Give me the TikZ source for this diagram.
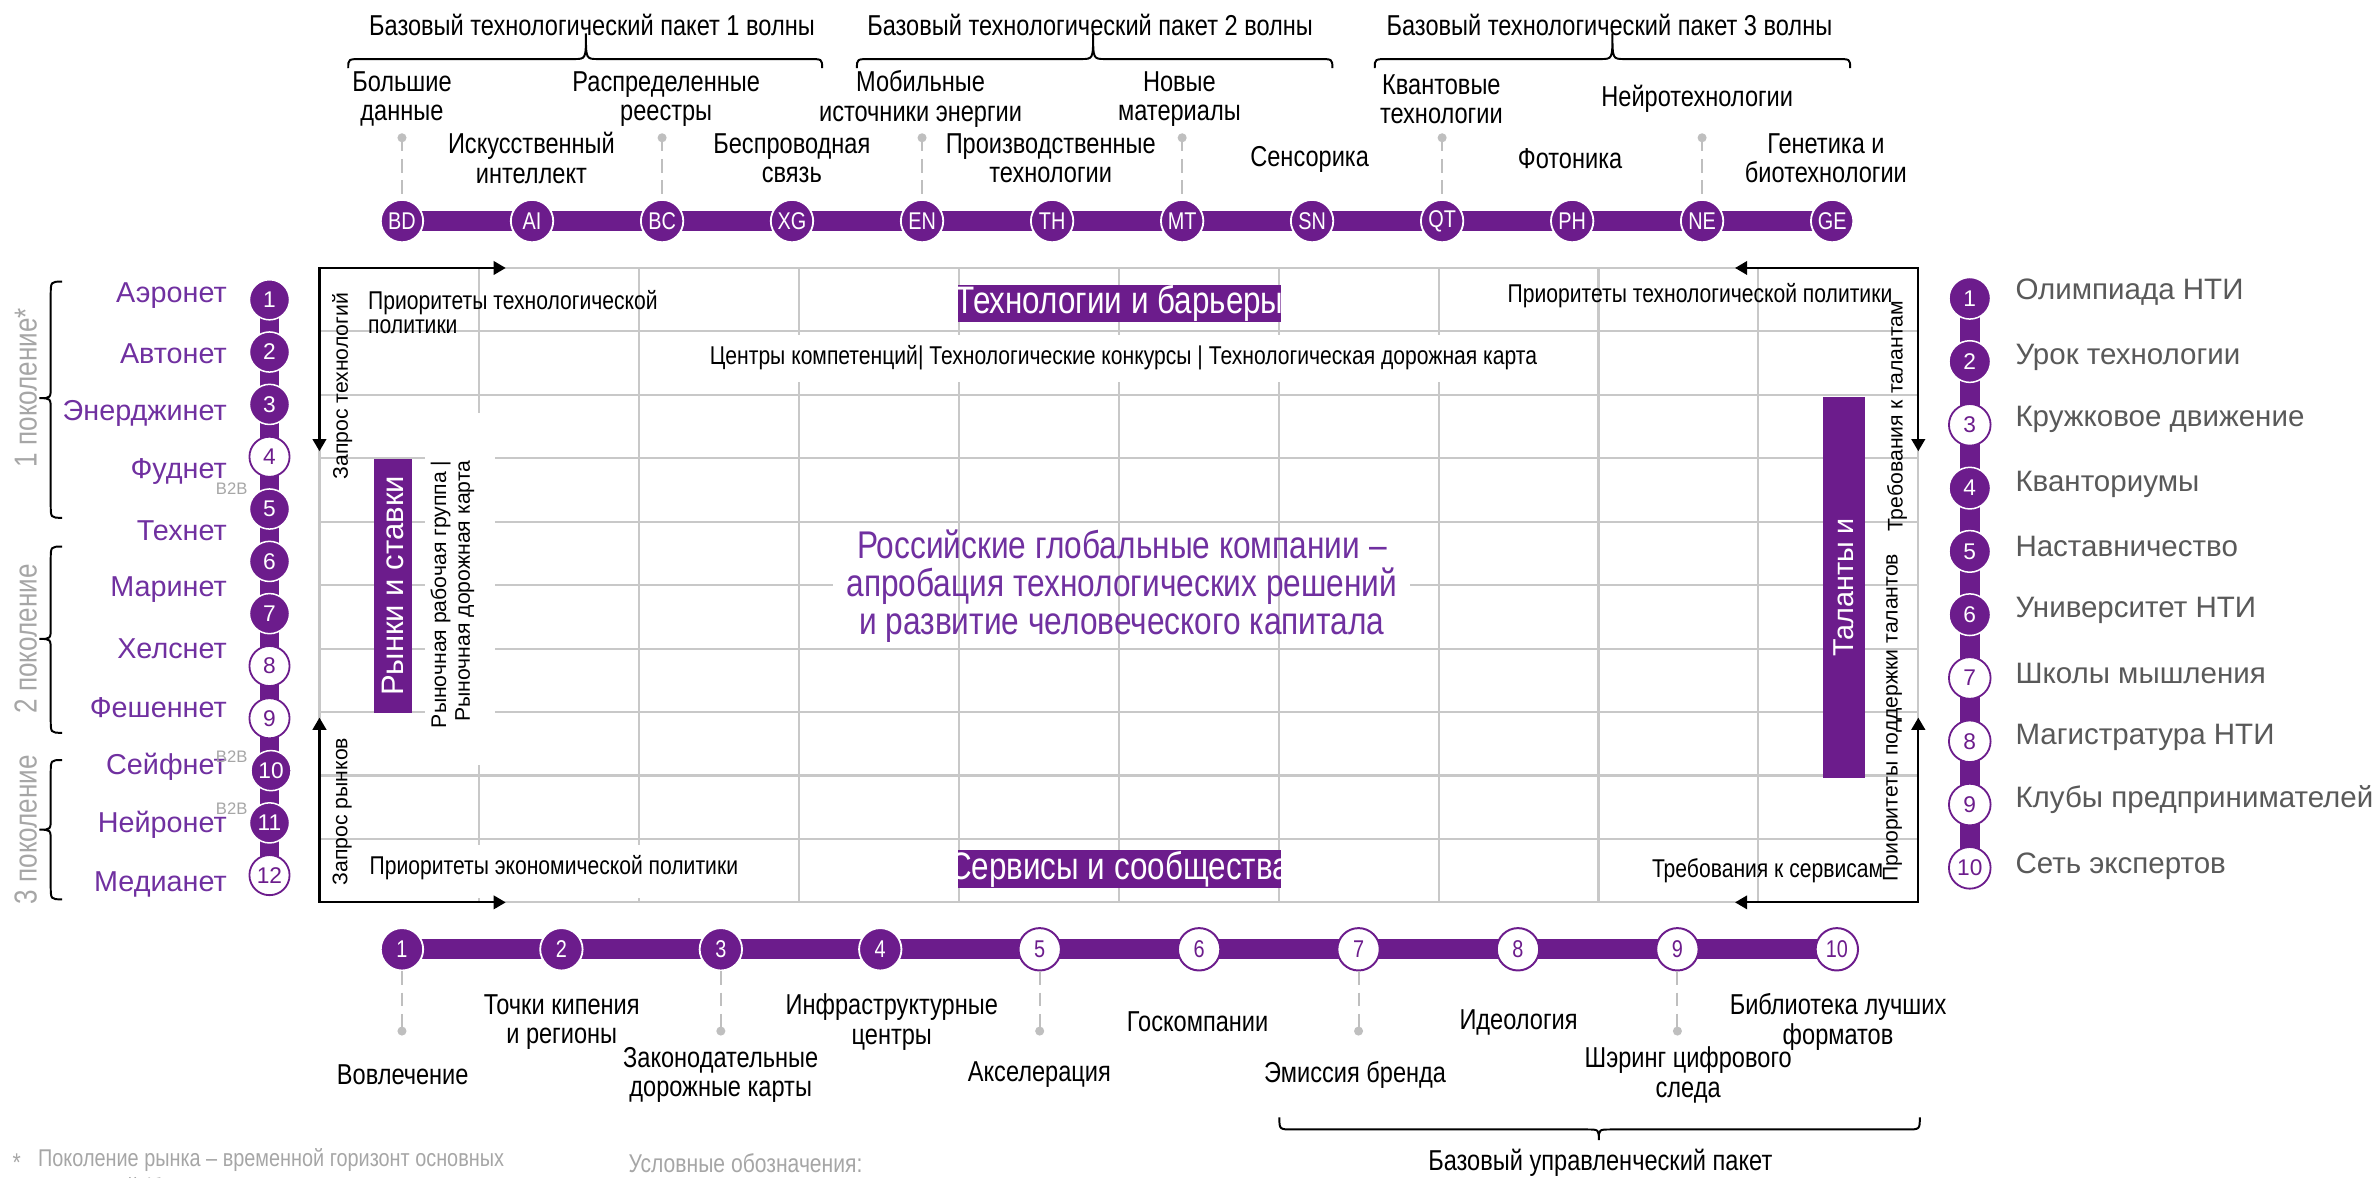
\documentclass[tikz,border=0pt]{standalone}
\usepackage{fontspec}
\setmainfont{Liberation Sans}
\newfontfamily\nar[FakeStretch=0.82]{Liberation Sans}
\usetikzlibrary{arrows.meta,backgrounds}
\definecolor{pu}{RGB}{108,28,140}
\definecolor{put}{RGB}{112,48,160}
\definecolor{gridc}{RGB}{200,200,200}
\definecolor{pinc}{RGB}{191,191,191}
\definecolor{listc}{RGB}{89,89,89}
\definecolor{genc}{RGB}{166,166,166}
\newcommand{\fsz}[2]{\fontsize{#1}{#2}\selectfont}
% horizontal brace: x1, x2, xtip, ymid, end offset, tip offset
\newcommand{\hbr}[6]{\draw[brc] (#1,{#4+(#5)}) .. controls (#1,#4) .. ({#1+9},#4) -- ({#3-8},#4) .. controls (#3,#4) .. (#3,{#4+(#6)}) .. controls (#3,#4) .. ({#3+8},#4) -- ({#2-9},#4) .. controls (#2,#4) .. (#2,{#4+(#5)});}
% vertical brace: y1, y2, ytip, xmid, end offset, tip offset
\newcommand{\vbr}[6]{\draw[brc] ({#4+(#5)},#1) .. controls (#4,#1) .. (#4,{#1+9}) -- (#4,{#3-8}) .. controls (#4,#3) .. ({#4+(#6)},#3) .. controls (#4,#3) .. (#4,{#3+8}) -- (#4,{#2-9}) .. controls (#4,#2) .. ({#4+(#5)},#2);}
\tikzset{
  brc/.style={black, line width=1.3pt},
  tcirc/.style={circle, fill=pu, draw=white, line width=1.2pt, minimum size=28pt, inner sep=0pt, text=white, font=\nar\fsz{16}{16}},
  lcf/.style={circle, fill=pu, draw=white, line width=1pt, minimum size=26.5pt, inner sep=0pt, text=white, font=\fsz{15}{15}},
  lco/.style={circle, fill=white, draw=pu, line width=1.2pt, minimum size=26.5pt, inner sep=0pt, text=pu, font=\fsz{15}{15}},
  rcf/.style={lcf, minimum size=27.5pt},
  rco/.style={lco, minimum size=27.5pt},
  bcf/.style={circle, fill=pu, draw=white, line width=1.2pt, minimum size=28pt, inner sep=0pt, text=white, font=\nar\fsz{16}{16}},
  bco/.style={circle, fill=white, draw=pu, line width=1.3pt, minimum size=28pt, inner sep=0pt, text=pu, font=\nar\fsz{16}{16}},
  tbar/.style={pu, line width=13pt},
  lbl/.style={font=\nar\fsz{19}{19.5}, align=center, inner sep=0pt},
  pind/.style={pinc, line width=1.3pt, dash pattern=on 9pt off 5pt},
  gridl/.style={gridc, line width=1.4pt},
  frarr/.style={black, line width=1.4pt, {Triangle[length=8pt,width=9pt]}-{Triangle[length=8pt,width=9pt]}},
  net/.style={font=\fsz{19}{19}, text=put, anchor=east, inner sep=0pt},
  lst/.style={font=\fsz{19.5}{19.5}, text=listc, anchor=west, inner sep=0pt},
  gen/.style={font=\nar\fsz{21}{21}, text=genc, rotate=90, inner sep=0pt},
  btb/.style={font=\fsz{11}{11}, text=genc, inner sep=0pt},
  sm/.style={font=\nar\fsz{17}{16}, inner sep=0pt},
  vtxt/.style={rotate=90, font=\fsz{14}{14}, inner sep=0pt},
  pbox/.style={fill=pu, inner sep=0pt, text=white},
  hbox/.style={pbox, minimum width=213pt, minimum height=25pt, font=\nar\fsz{25.3}{25.3}},
  foot/.style={font=\nar\fsz{17}{17}, text=genc, inner sep=0pt},
}
\begin{document}
\begin{tikzpicture}[x=1pt,y=-1pt]
\useasboundingbox (0,0) rectangle (1568,778);

% ---------- top wave headers ----------
\node[lbl] (w1) at (391,16.5) {Базовый технологический пакет 1 волны};
\node[lbl] (w2) at (720,16.5) {Базовый технологический пакет 2 волны};
\node[lbl] (w3) at (1063,16.5) {Базовый технологический пакет 3 волны};
\hbr{230}{543}{387}{39}{6}{-17}
\hbr{566}{880}{722}{39}{6}{-17}
\hbr{908}{1222}{1065}{39}{6}{-17}

% ---------- top timeline ----------
\node[tcirc] (BD) at (265.5,146) {BD};
\node[tcirc] (AI) at (351.4,146) {AI};
\node[tcirc] (BC) at (437.3,146) {BC};
\node[tcirc] (XG) at (523.1,146) {XG};
\node[tcirc] (EN) at (609,146) {EN};
\node[tcirc] (TH) at (694.9,146) {TH};
\node[tcirc] (MT) at (780.8,146) {MT};
\node[tcirc] (SN) at (866.6,146) {SN};
\node[tcirc] (QT) at (952.5,146) {QT};
\node[tcirc] (PH) at (1038.4,146) {PH};
\node[tcirc] (NE) at (1124.2,146) {NE};
\node[tcirc] (GE) at (1210.1,146) {GE};
\begin{pgfonlayer}{background}
\draw[tbar] (BD.center) -- (GE.center);
\end{pgfonlayer}
\foreach \n in {BD,BC,EN,MT,QT,NE}{
  \coordinate (p\n) at (\n.north |- 0,91);
  \draw[pind] (p\n) -- (\n.north);
  \fill[pinc] (p\n) circle (3pt);
}
\node[lbl] (BDl) at (265.5,65.5) {Большие\\данные};
\node[lbl] (AIl) at (351,104.5) {Искусственный\\интеллект};
\node[lbl] (BCl) at (440,65.5) {Распределенные\\реестры};
\node[lbl] (XGl) at (523,104.5) {Беспроводная\\связь};
\node[lbl] (ENl) at (608,65.5) {Мобильные\\источники энергии};
\node[lbl] (THl) at (694,104.5) {Производственные\\технологии};
\node[lbl] (MTl) at (779,65.5) {Новые\\материалы};
\node[lbl] (SNl) at (865,105) {Сенсорика};
\node[lbl] (QTl) at (952,65.5) {Квантовые\\технологии};
\node[lbl] (PHl) at (1037,105) {Фотоника};
\node[lbl] (NEl) at (1121,65.5) {Нейротехнологии};
\node[lbl] (GEl) at (1206,104.5) {Генетика и\\биотехнологии};

% ---------- left generations ----------
\vbr{186}{342}{263}{33.5}{7.5}{-7.5}
\vbr{361}{484}{422}{33.5}{7.5}{-7.5}
\vbr{502}{594}{548}{33.5}{7.5}{-7.5}
\node[gen] (g1) at (17,256) {1 поколение*};
\node[gen] (g2) at (17,422) {2 поколение};
\node[gen] (g3) at (17,548) {3 поколение};

\node[lcf] (L1) at (178,198) {1};
\node[lcf] (L2) at (178,232.5) {2};
\node[lcf] (L3) at (178,267.1) {3};
\node[lco] (L4) at (178,301.7) {4};
\node[lcf] (L5) at (178,336.2) {5};
\node[lcf] (L6) at (178,370.8) {6};
\node[lcf] (L7) at (178,405.3) {7};
\node[lco] (L8) at (178,439.9) {8};
\node[lco] (L9) at (178,474.4) {9};
\node[lcf] (L10) at (179,509) {10};
\node[lcf] (L11) at (178,543.5) {11};
\node[lco] (L12) at (178,578) {12};
\begin{pgfonlayer}{background}
\draw[tbar] (L1.center) -- (L12.center);
\end{pgfonlayer}

\node[net] (N1) at (150,195) {Аэронет};
\node[net] (N2) at (150,233.9) {Автонет};
\node[net] (N3) at (150,272.8) {Энерджинет};
\node[net] (N4) at (150,311.7) {Фуднет};
\node[net] (N5) at (150,350.6) {Технет};
\node[net] (N6) at (150,389.5) {Маринет};
\node[net] (N7) at (150,428.4) {Хелснет};
\node[net] (N8) at (150,467.3) {Фешеннет};
\node[net] (N9) at (150,506.2) {Сейфнет};
\node[net] (N10) at (150,545.1) {Нейронет};
\node[net] (N11) at (150,584) {Медианет};
\node[btb] (b1) at (153,323) {B2B};
\node[btb] (b2) at (153,500) {B2B};
\node[btb] (b3) at (153,534) {B2B};

% ---------- grid ----------
\foreach \k in {0,...,10}
  \draw[gridl] (211,{177+41.9*\k}) -- (1267,{177+41.9*\k});
\fill[white] (550,362) rectangle (931,413);
\foreach \k in {0,...,10}
  \draw[gridl] ({211+105.6*\k},177) -- ({211+105.6*\k},596);
\fill[white] (440,221) rectangle (1040,252);
\fill[white] (281,273) rectangle (327,505);
\fill[white] (240,558) rectangle (438,593);

% frame arrows
\coordinate (fTL) at (211,177);
\coordinate (fTLd) at (211,298);
\coordinate (fTLr) at (334,177);
\coordinate (fTR) at (1267,177);
\coordinate (fTRd) at (1267,298);
\coordinate (fTRl) at (1146,177);
\coordinate (fBL) at (211,596);
\coordinate (fBLu) at (211,474);
\coordinate (fBLr) at (334,596);
\coordinate (fBR) at (1267,596);
\coordinate (fBRu) at (1267,474);
\coordinate (fBRl) at (1146,596);
\draw[frarr] (fTLd) -- (fTL) -- (fTLr);
\draw[frarr] (fTRd) -- (fTR) -- (fTRl);
\draw[frarr] (fBLu) -- (fBL) -- (fBLr);
\draw[frarr] (fBRu) -- (fBR) -- (fBRl);

% purple boxes
\node[hbox] (TB) at (739.5,200.5) {\makebox[200pt]{Технологии и барьеры}};
\node[hbox] (SS) at (739.5,574) {\makebox[200pt]{Сервисы и сообщества}};
\node[pbox, rotate=90, minimum width=168pt, minimum height=25pt, font=\fsz{20.5}{20.5}] (RS) at (259.5,387) {Рынки и ставки};
\node[pbox, rotate=90, minimum width=252pt, minimum height=28pt, font=\fsz{19}{19}] (TL) at (1218,388) {Таланты и};

% texts in grid
\node[sm, anchor=west, align=left] (ptl) at (243,206) {Приоритеты технологической\\политики};
\node[sm] (cent) at (742,236) {Центры компетенций| Технологические конкурсы | Технологическая дорожная карта};
\node[sm, anchor=east] (ptr) at (1250,195) {Приоритеты технологической политики};
\node[sm, anchor=west] (pep) at (244,573) {Приоритеты экономической политики};
\node[sm, anchor=east] (trs) at (1244,575) {Требования к сервисам};
\node[vtxt] (zt) at (226,255) {Запрос технологий};
\node[vtxt] (zr) at (226,536) {Запрос рынков};
\node[vtxt] (tt) at (1253,275) {Требования к талантам};
\node[vtxt] (pt) at (1250,474) {Приоритеты поддержки талантов};
\node[vtxt, anchor=east] (rg1) at (291,304) {Рыночная рабочая группа |};
\node[vtxt, anchor=east] (rg2) at (307,304) {Рыночная дорожная карта};
\node[font=\nar\fsz{25.5}{25}, text=put, align=center, inner sep=0pt] (rus) at (741,387)
  {Российские глобальные компании –\\апробация технологических решений\\и развитие человеческого капитала};

% ---------- right list ----------
\node[rcf] (R1) at (1301,197) {1};
\node[rcf] (R2) at (1301,238.8) {2};
\node[rco] (R3) at (1301,280.6) {3};
\node[rcf] (R4) at (1301,322.4) {4};
\node[rcf] (R5) at (1301,364.2) {5};
\node[rcf] (R6) at (1301,406) {6};
\node[rco] (R7) at (1301,447.8) {7};
\node[rco] (R8) at (1301,489.6) {8};
\node[rco] (R9) at (1301,531.4) {9};
\node[rco] (R10) at (1301,573.2) {10};
\begin{pgfonlayer}{background}
\draw[tbar] (R1.center) -- (R10.center);
\end{pgfonlayer}
\node[lst] (T1) at (1331,193) {Олимпиада НТИ};
\node[lst] (T2) at (1331,236) {Урок технологии};
\node[lst] (T3) at (1331,277) {Кружковое движение};
\node[lst] (T4) at (1331,320) {Кванториумы};
\node[lst] (T5) at (1331,361) {Наставничество};
\node[lst] (T6) at (1331,403) {Университет НТИ};
\node[lst] (T7) at (1331,445) {Школы мышления};
\node[lst] (T8) at (1331,487) {Магистратура НТИ};
\node[lst] (T9) at (1331,528) {Клубы предпринимателей};
\node[lst] (T10) at (1331,572) {Сеть экспертов};

% ---------- bottom timeline ----------
\node[bcf] (B1) at (265.5,627) {1};
\node[bcf] (B2) at (370.8,627) {2};
\node[bcf] (B3) at (476.1,627) {3};
\node[bcf] (B4) at (581.4,627) {4};
\node[bco] (B5) at (686.7,627) {5};
\node[bco] (B6) at (792,627) {6};
\node[bco] (B7) at (897.3,627) {7};
\node[bco] (B8) at (1002.6,627) {8};
\node[bco] (B9) at (1107.9,627) {9};
\node[bco] (B10) at (1213.2,627) {10};
\begin{pgfonlayer}{background}
\draw[tbar] (B1.center) -- (B10.center);
\end{pgfonlayer}
\foreach \n in {B1,B3,B5,B7,B9}{
  \coordinate (q\n) at (\n.south |- 0,681);
  \draw[pind] (\n.south) -- (q\n);
  \fill[pinc] (q\n) circle (3pt);
}
\node[lbl] (B1l) at (266,710) {Вовлечение};
\node[lbl] (B2l) at (371,675) {Точки кипения\\и регионы};
\node[lbl] (B3l) at (476,710) {Законодательные\\дорожные карты};
\node[lbl] (B4l) at (589,675) {Инфраструктурные\\центры};
\node[lbl] (B5l) at (686.5,710) {Акселерация};
\node[lbl] (B6l) at (791,675) {Госкомпании};
\node[lbl] (B7l) at (895,710) {Эмиссия бренда};
\node[lbl] (B8l) at (1003,675) {Идеология};
\node[lbl] (B9l) at (1115,710) {Шэринг цифрового\\следа};
\node[lbl] (B10l) at (1214,675) {Библиотека лучших\\форматов};

\hbr{845}{1268}{1056}{746}{-8}{7}
\node[lbl] (upr) at (1057,768) {Базовый управленческий пакет};

% ---------- footnotes ----------
\begin{scope}
\clip (0,0) rectangle (1568,778);
\node[foot] (ast) at (11,768) {*};
\node[foot, font=\nar\fsz{16}{19}, anchor=west, align=left] (fn) at (25,776) {Поколение рынка – временной горизонт основных\\изменений (ближнее поколение – до 5 лет};
\node[foot, anchor=west] (uo) at (415,768) {Условные обозначения:};
\end{scope}
\end{tikzpicture}
\end{document}
